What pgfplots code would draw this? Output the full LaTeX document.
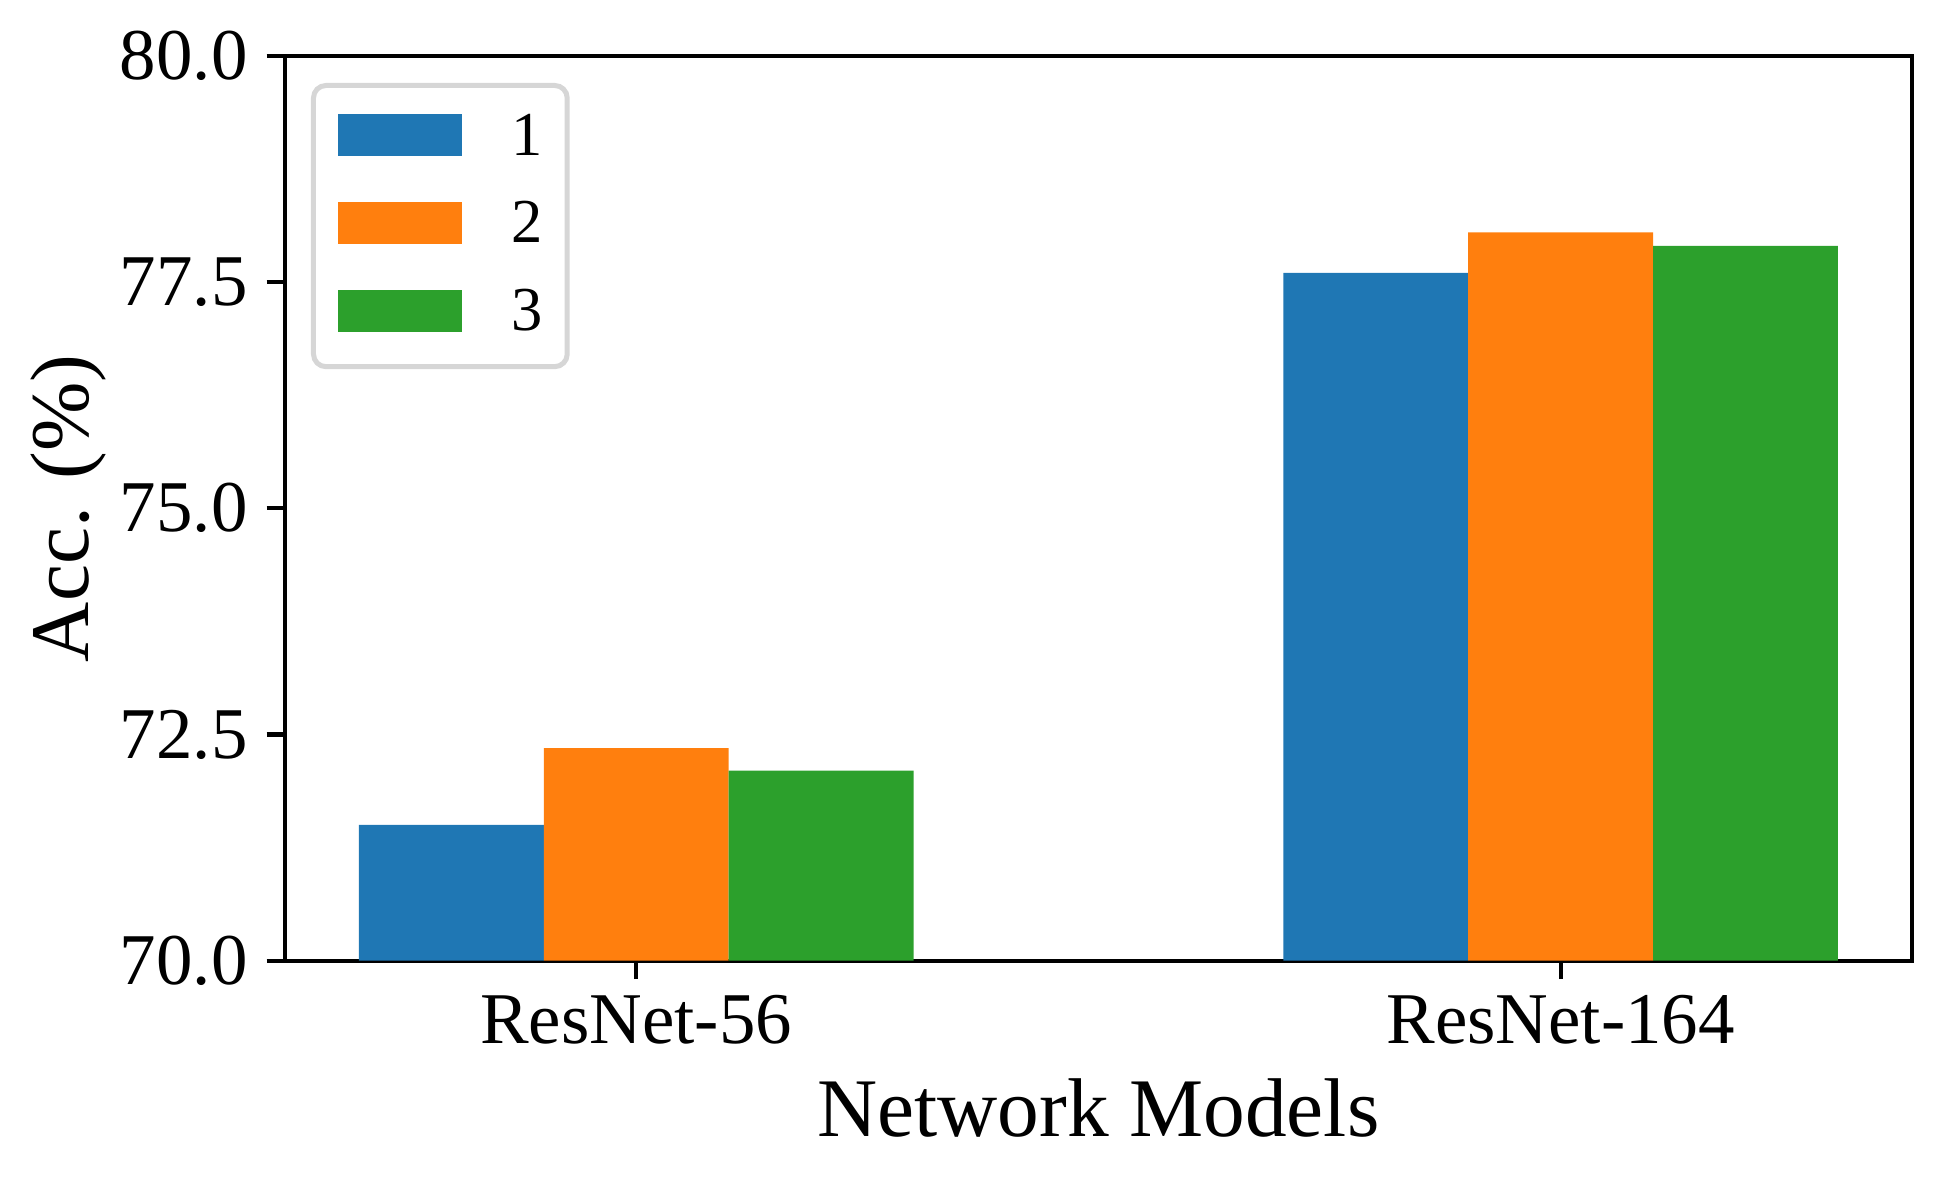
\documentclass[border=0pt]{standalone}
\usepackage{fontspec}
\setmainfont{Liberation Serif}
\usepackage{pgfplots}
\pgfplotsset{compat=1.18}
\usetikzlibrary{calc}
\definecolor{cA}{RGB}{31,119,180}
\definecolor{cB}{RGB}{255,127,14}
\definecolor{cC}{RGB}{44,160,44}

\begin{document}
\begin{tikzpicture}
\begin{axis}[
    name=ax,
    scale only axis,
    width=390.5pt,
    height=217.2pt,
    xmin=-0.38, xmax=1.38,
    ymin=70, ymax=80,
    xtick={0,1},
    xticklabels={ResNet-56,ResNet-164},
    ytick={70,72.5,75,77.5,80},
    axis line style={line width=1pt},
    tick style={line width=1pt,black},
    major tick length=4.4pt,
    tick align=outside,
    xtick pos=left, ytick pos=left,
    ticklabel style={font=\fontsize{17.5}{21}\selectfont},
    /pgf/number format/assume math mode=true,
    yticklabel style={/pgf/number format/.cd,fixed,fixed zerofill,precision=1,
        /tikz/.cd,anchor=east,inner sep=0pt,xshift=-4.4pt},
    xticklabel style={anchor=north,inner sep=0pt,yshift=-3.6pt},
    xlabel={Network Models},
    ylabel={Acc. (\%)},
    xlabel style={font=\fontsize{20}{24}\selectfont,
        at={(axis description cs:0.5,0)},anchor=base,yshift=-42.1pt},
    ylabel style={font=\fontsize{20}{24}\selectfont,
        at={(axis description cs:-0.1332,0.5)},anchor=center},
    ybar,
    bar width=0.2,
    every axis plot/.append style={draw=none},
    legend image code/.code={\fill[#1,sharp corners,fill opacity=1] (0pt,-4.3pt) rectangle (29.8pt,5.7pt);},
    legend style={at={(axis description cs:0.016,0.97)},anchor=north west,
        draw=black!16,line width=1.2pt,rounded corners=3pt,
        fill=white,fill opacity=0.8,text opacity=1,
        font=\fontsize{15}{18}\selectfont,
        inner xsep=5.8pt,inner ysep=6.1pt,
        row sep=8pt,column sep=0pt,
        nodes={inner sep=0pt,text height=10.6pt,text depth=2.5pt},
        /tikz/every odd column/.style={column sep=12pt}},
    legend cell align=left,
]
\addplot[fill=cA,bar shift=-0.2] coordinates {(0,71.50) (1,77.60)};
\addlegendentry{1}
\addplot[fill=cB,bar shift=0] coordinates {(0,72.35) (1,78.05)};
\addlegendentry{2}
\addplot[fill=cC,bar shift=0.2] coordinates {(0,72.10) (1,77.90)};
\addlegendentry{3}
\end{axis}
\pgfresetboundingbox
\path[use as bounding box] ($(ax.south west)+(-68.4pt,-53.5pt)$) rectangle ($(ax.north east)+(7pt,13.4pt)$);
\end{tikzpicture}
\end{document}
